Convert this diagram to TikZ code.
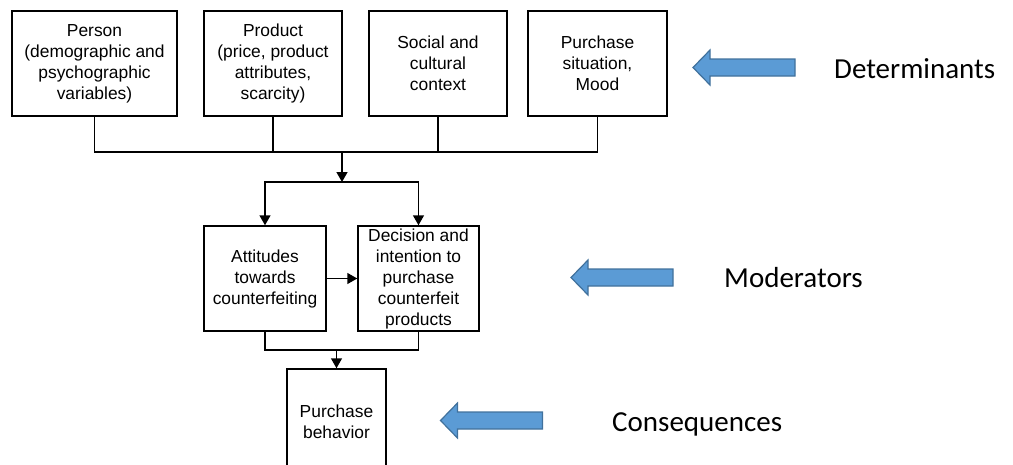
\documentclass[tikz,border=0pt]{standalone}
\usepackage{fontspec}
\setmainfont{Liberation Sans}
\newfontfamily\labelfont{Carlito}
\usepackage{xcolor}
\usetikzlibrary{arrows.meta,positioning}
\definecolor{bluefill}{HTML}{5B9BD5}
\definecolor{blueedge}{HTML}{41719C}

\begin{document}
\begin{tikzpicture}[
  x=1pt, y=-1pt,
  box/.style={draw,line width=1.5pt,minimum height=105pt,align=center,inner sep=2pt,
              font=\fontsize{17.4}{21}\selectfont},
  line/.style={line width=1.5pt},
  arr/.style={-{Triangle[length=10pt,width=11pt]},line width=1.5pt},
  bluearrow/.style={draw=blueedge,fill=bluefill,line width=1.2pt},
  level/.style={anchor=base west,inner sep=0pt,font=\labelfont\fontsize{29}{34}\selectfont}
]
\useasboundingbox (0,0) rectangle (1013,464);
\clip (0,0) rectangle (1013,464);
% determinants
\node[box,minimum width=165pt] (person) at (94.5,63.5) {Person\\(demographic and\\psychographic\\variables)};
\node[box,minimum width=138pt,right=25.5pt of person] (product) {Product\\(price, product\\attributes,\\scarcity)};
\node[box,minimum width=138pt,right=25.5pt of product] (social) {Social and\\cultural\\context};
\node[box,minimum width=139pt,right=19.5pt of social] (situation) {Purchase\\situation,\\Mood};
% moderators
\node[box,minimum width=122pt] (attitudes) at (265,278.5) {Attitudes\\towards\\counterfeiting};
\node[box,minimum width=121pt,right=30.5pt of attitudes] (decision) {Decision and\\intention to\\purchase\\counterfeit\\products};
% consequences
\node[box,minimum width=99pt] (behavior) at (336.5,421.5) {Purchase\\behavior};

\coordinate (bus) at (342,152);
\coordinate (split) at (342,182);
\coordinate (merge) at (336.5,350);

\draw[line] (person.south) |- (bus) -| (situation.south);
\draw[line] (product.south) -- (product.south |- bus);
\draw[line] (social.south) -- (social.south |- bus);
\draw[arr] (bus) -- (split);
\draw[arr] (split) -| (attitudes.north);
\draw[arr] (split) -| (decision.north);
\draw[arr] (attitudes) -- (decision);
\draw[line] (attitudes.south) |- (merge) -| (decision.south);
\draw[arr] (merge) -- (behavior.north);

% level arrows and labels
\foreach \tipx/\tipy in {693/67.5, 571/277.5, 440.5/420.5}
  \draw[bluearrow] (\tipx,\tipy) -- ++(17,-17.5) -- ++(0,9) -- ++(85,0) -- ++(0,17)
    -- ++(-85,0) -- ++(0,9) -- cycle;
\node[level] (determinants) at (834,78) {Determinants};
\node[level] (moderators) at (724,287.5) {Moderators};
\node[level] (consequences) at (612,431.5) {Consequences};
\end{tikzpicture}
\end{document}
